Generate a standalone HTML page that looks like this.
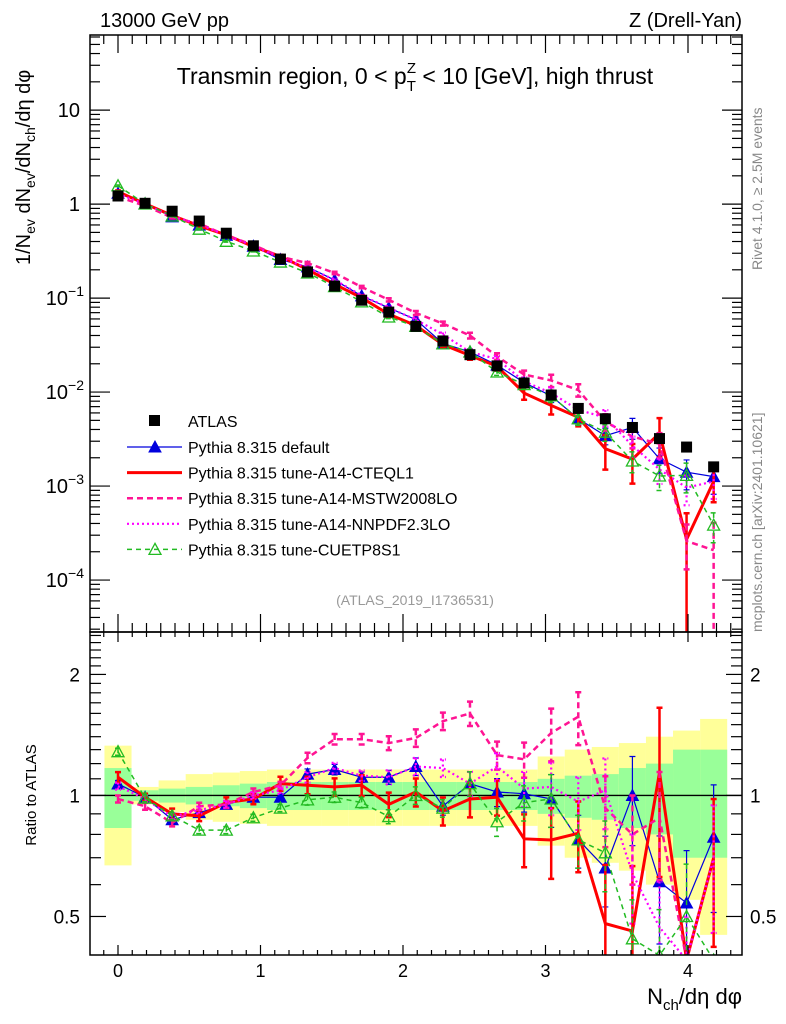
<!DOCTYPE html>
<html><head><meta charset="utf-8"><style>
html,body{margin:0;padding:0;background:#fff;overflow:hidden;width:786px;height:1024px;}
svg{display:block;font-family:"Liberation Sans",sans-serif;}
</style></head><body>
<svg id="chart" width="786" height="1024" viewBox="0 0 786 1024" xmlns="http://www.w3.org/2000/svg">
<rect width="786" height="1024" fill="#fff"/>
<g id="ratioBands"></g>
<g id="marks"></g>
<g id="axes"></g>
<text x="100" y="27" font-size="20">13000 GeV pp</text>
<text x="742" y="27" font-size="20" text-anchor="end">Z (Drell-Yan)</text>
<text x="415" y="84" font-size="23" text-anchor="middle">Transmin region, 0 &lt; p<tspan font-size="15" dy="7">T</tspan><tspan font-size="15" dx="-9" dy="-18">Z</tspan><tspan dy="11"> &lt; 10 [GeV], high thrust</tspan></text>
<text x="415" y="605" font-size="14" fill="#999" text-anchor="middle">(ATLAS_2019_I1736531)</text>
<text transform="translate(30,265) rotate(-90)" font-size="20">1/N<tspan font-size="14" dy="5">ev</tspan><tspan dy="-5"> dN</tspan><tspan font-size="14" dy="5">ev</tspan><tspan dy="-5">/dN</tspan><tspan font-size="14" dy="5">ch</tspan><tspan dy="-5">/dη dφ</tspan></text>
<text transform="translate(36,795) rotate(-90)" font-size="15" text-anchor="middle">Ratio to ATLAS</text>
<text x="742" y="1004" font-size="22" text-anchor="end">N<tspan font-size="15" dy="6">ch</tspan><tspan dy="-6">/dη dφ</tspan></text>
<text transform="translate(762,632) rotate(-90)" font-size="14" fill="#888">mcplots.cern.ch [arXiv:2401.10621]</text>
<text transform="translate(762,270) rotate(-90)" font-size="14" fill="#888">Rivet 4.1.0, ≥ 2.5M events</text>
<g id="legend"></g>
</svg>
<script>
const xVals = [0,0.19,0.38,0.57,0.76,0.95,1.14,1.33,1.52,1.71,1.90,2.09,2.28,2.47,2.66,2.85,3.04,3.23,3.42,3.61,3.80,3.99,4.18];
const atlas = [1.22,1.02,0.84,0.66,0.49,0.36,0.26,0.19,0.134,0.095,0.071,0.050,0.035,0.025,0.019,0.0125,0.0093,0.0067,0.0052,0.0042,0.0032,0.0026,0.0016];
const bandInner = [0.17,0.03,0.04,0.05,0.06,0.07,0.08,0.08,0.08,0.08,0.08,0.08,0.08,0.08,0.08,0.08,0.10,0.12,0.13,0.17,0.2,0.3,0.3];
const bandOuter = [0.33,0.05,0.09,0.13,0.14,0.15,0.16,0.16,0.16,0.16,0.16,0.16,0.16,0.16,0.16,0.16,0.25,0.3,0.32,0.35,0.4,0.45,0.55];
const ratioDefault = [1.068,0.99,0.87,0.906,0.95,0.99,0.99,1.13,1.16,1.11,1.11,1.18,0.94,1.07,1.02,1.01,0.98,0.776,0.66,1.0,0.61,0.54,0.787];
const ratioCTEQ = [1.11,0.99,0.90,0.89,0.96,0.98,1.07,1.06,1.05,1.06,0.95,1.02,0.915,0.98,0.99,0.78,0.775,0.805,0.48,0.46,1.14,0.104,0.70];
const ratioMSTW = [0.98,0.94,0.855,0.94,0.95,1.02,1.06,1.24,1.38,1.38,1.35,1.39,1.53,1.60,1.26,1.23,1.43,1.57,0.93,0.80,0.88,0.1,0.13];
const ratioNNPDF = [1.055,0.98,0.886,0.92,0.95,1.0,1.03,1.11,1.17,1.12,1.11,1.18,1.17,1.07,1.18,1.04,1.05,0.965,1.03,0.64,0.47,0.37,0.70];
const ratioCUETP = [1.285,0.985,0.89,0.82,0.82,0.88,0.93,0.975,0.99,0.96,0.886,1.0,0.93,1.07,0.86,0.96,0.98,0.776,0.72,0.44,0.40,0.50,0.24];
const mcErr = [0.02,0.02,0.02,0.02,0.02,0.02,0.02,0.03,0.03,0.03,0.04,0.05,0.05,0.07,0.08,0.1,0.15,0.15,0.2,0.25,0.3,0.35,0.35];
const mstwErr = [0.02,0.02,0.02,0.02,0.02,0.02,0.02,0.03,0.03,0.03,0.04,0.05,0.05,0.07,0.08,0.1,0.15,0.15,0.2,0.25,0.3,0.5,0.95];
const redErr = [0.03,0.02,0.03,0.03,0.03,0.03,0.04,0.05,0.05,0.06,0.07,0.08,0.08,0.1,0.1,0.15,0.2,0.2,0.4,0.45,0.45,0.9,0.4];
const mainYTicks = [10,1,0.1,0.01,0.001,0.0001];
const mainYLabels = ["10","1","10^-1","10^-2","10^-3","10^-4"];
const ratioTicks = [2,1,0.5];
const ratioLabels = ["2","1","0.5"];
const xTicks = [0,1,2,3,4];

const NS = "http://www.w3.org/2000/svg";
const L = 90, R = 742, T1 = 35, B1 = 632, T2 = 632, B2 = 955;
const X0 = -0.1965, X1 = 4.379;
const sx = v => L + (v - X0) / (X1 - X0) * (R - L);
const yLo = Math.log10(2.8e-5), yHi = Math.log10(63);
const clamp = (y, a, b) => Math.max(a, Math.min(b, y));
const sy = v => clamp(B1 - (Math.log10(v) - yLo) / (yHi - yLo) * (B1 - T1), T1 - 5, B1 + 5);
const rLo = Math.log2(0.401), rHi = Math.log2(2.55);
const sr = v => clamp(B2 - (Math.log2(v) - rLo) / (rHi - rLo) * (B2 - T2), T2 - 5, B2 + 5);
function el(tag, attrs, parent) {
  const e = document.createElementNS(NS, tag);
  for (const k in attrs) e.setAttribute(k, attrs[k]);
  parent.appendChild(e); return e;
}
const marks = document.getElementById('marks');
const axes = document.getElementById('axes');
const bands = document.getElementById('ratioBands');
const clipDefs = el('defs', {}, marks);
const c1 = el('clipPath', {id: 'cp1'}, clipDefs); el('rect', {x: L, y: T1, width: R - L, height: B1 - T1}, c1);
const c2 = el('clipPath', {id: 'cp2'}, clipDefs); el('rect', {x: L, y: T2, width: R - L, height: B2 - T2}, c2);
const g1 = el('g', {'clip-path': 'url(#cp1)'}, marks);


const g2 = el('g', {'clip-path': 'url(#cp2)'}, marks);



const bw = 0.19;
xVals.forEach((x, i) => {
  const xa = sx(x - bw / 2), xb = sx(x + bw / 2);
  const yb = el('rect', {x: xa, y: sr(1 + bandOuter[i]), width: xb - xa, height: sr(Math.max(1 - bandOuter[i], 0.3)) - sr(1 + bandOuter[i]), fill: '#ffff99'}, bands);
  
  
  const gb = el('rect', {x: xa, y: sr(1 + bandInner[i]), width: xb - xa, height: sr(1 - bandInner[i]) - sr(1 + bandInner[i]), fill: '#99ff99'}, bands);
  
  
});
bands.setAttribute('clip-path', 'url(#cp2)');
const one = el('line', {x1: L, x2: R, y1: sr(1), y2: sr(1), stroke: '#000', 'stroke-width': 1.3}, g2);



const series = [
  {name: 'default', r: ratioDefault, err: mcErr, color: '#0000dd', w: 1.2, dash: '', marker: 'fill', label: 'Pythia 8.315 default'},
  {name: 'cteql1', r: ratioCTEQ, err: redErr, color: '#ff0000', w: 3, dash: '', marker: '', label: 'Pythia 8.315 tune-A14-CTEQL1'},
  {name: 'mstw', r: ratioMSTW, err: mstwErr, color: '#ff1493', w: 2.5, dash: '6,4', marker: '', label: 'Pythia 8.315 tune-A14-MSTW2008LO'},
  {name: 'nnpdf', r: ratioNNPDF, err: mcErr, color: '#ff00ff', w: 2.2, dash: '2,3', marker: '', label: 'Pythia 8.315 tune-A14-NNPDF2.3LO'},
  {name: 'cuetp8s1', r: ratioCUETP, err: mcErr, color: '#22bb22', w: 1.5, dash: '5,4', marker: 'open', label: 'Pythia 8.315 tune-CUETP8S1'}
];
function tri(g, x, y, s, open) {
  const p = el('polygon', {points: `${x},${y - 6} ${x - 6},${y + 5} ${x + 6},${y + 5}`, fill: open ? 'none' : s.color, stroke: s.color, 'stroke-width': open ? 1.3 : 1}, g);
  
  
}
series.forEach(s => {
  [[g1, i => s.r[i] * atlas[i], sy], [g2, i => s.r[i], sr]].forEach(([g, val, fy], pi) => {
    const grp = el('g', {}, g);
    
    
    const pts = xVals.map((x, i) => `${sx(x)},${fy(val(i))}`).join(' ');
    const ln = el('polyline', {points: pts, fill: 'none', stroke: s.color, 'stroke-width': s.w, 'stroke-dasharray': s.dash}, grp);
    
    
    xVals.forEach((x, i) => {
      const v = val(i), e = s.err[i];
      const yt = fy(v * (1 + e)), yb = fy(Math.max(v * (1 - e), 1e-9));
      const eb = el('path', {d: `M${sx(x)},${yt}V${yb}M${sx(x) - 3},${yt}h6M${sx(x) - 3},${yb}h6`, stroke: s.color, 'stroke-width': Math.min(s.w, 2.5), fill: 'none', 'stroke-dasharray': s.dash}, grp);
      
      
      if (s.marker) tri(grp, sx(x), fy(v), s, s.marker === 'open');
    });
  });
});
const ag = el('g', {}, g1);


xVals.forEach((x, i) => {
  const q = el('rect', {x: sx(x) - 5.5, y: sy(atlas[i]) - 5.5, width: 11, height: 11, fill: '#000'}, ag);
  
  
});

[[T1, B1], [T2, B2]].forEach(([t, b], k) => {
  const f = el('rect', {x: L, y: t, width: R - L, height: b - t, fill: 'none', stroke: '#000', 'stroke-width': 1.5}, axes);
  
  
});
function tick(x1, y1, x2, y2, w) {
  const t = el('line', {x1, y1, x2, y2, stroke: '#000', 'stroke-width': w || 1.2}, axes);
  
  
}
for (let k = -1; k <= 43; k++) {
  const v = k / 10; if (v < X0 || v > X1) continue;
  const x = sx(v), major = k % 10 === 0;
  const len = major ? 18 : 9, len2 = major ? 10 : 5;
  tick(x, B1, x, B1 - len); tick(x, T1, x, T1 + len);
  tick(x, B2, x, B2 - len2); tick(x, T2, x, T2 + len2);
}
xTicks.forEach(v => {
  const t = el('text', {x: sx(v), y: 977, 'font-size': 18, 'text-anchor': 'middle'}, axes);
  t.textContent = v;
  
  
});
for (let d = -5; d <= 1; d++) {
  for (let m = 1; m <= 9; m++) {
    const v = m * Math.pow(10, d);
    const yr = B1 - (Math.log10(v) - yLo) / (yHi - yLo) * (B1 - T1);
    if (yr < T1 || yr > B1) continue;
    const len = m === 1 ? 20 : 10;
    tick(L, yr, L + len, yr); tick(R, yr, R - len, yr);
  }
}
mainYTicks.forEach((v, i) => {
  const y = sy(v) + 7;
  const lab = mainYLabels[i];
  const t = el('text', {x: 80, y, 'font-size': 20, 'text-anchor': 'end'}, axes);
  if (lab.includes('^')) {
    const [b, e] = lab.split('^');
    t.setAttribute('x', 84);
    t.innerHTML = b + '<tspan font-size="14" dy="-9">' + e.replace('-', '−') + '</tspan>';
  } else t.textContent = lab;
  
  
});
for (let k = 4; k <= 25; k++) {
  const v = k / 10;
  const yr = B2 - (Math.log2(v) - rLo) / (rHi - rLo) * (B2 - T2);
  if (yr < T2 || yr > B2) continue;
  const major = (k === 5 || k === 10 || k === 20);
  const len = major ? 16 : 11;
  tick(L, yr, L + len, yr); tick(R, yr, R - len, yr);
}
ratioTicks.forEach((v, i) => {
  [[80, 'end'], [750, 'start']].forEach(([x, a]) => {
    const t = el('text', {x, y: sr(v) + 7, 'font-size': 19, 'text-anchor': a}, axes);
    t.textContent = ratioLabels[i];
    
    
  });
});
const lg = document.getElementById('legend');
const e0 = el('rect', {x: 149, y: 415, width: 11, height: 11, fill: '#000'}, lg);


const t0 = el('text', {x: 188, y: 427, 'font-size': 16}, lg);
t0.textContent = 'ATLAS';


series.forEach((s, i) => {
  const y = 447 + i * 25.6;
  const l = el('line', {x1: 127, x2: 182, y1: y, y2: y, stroke: s.color, 'stroke-width': s.w, 'stroke-dasharray': s.dash}, lg);
  
  
  if (s.marker) tri(lg, 155, y, s, s.marker === 'open');
  const t = el('text', {x: 188, y: y + 6, 'font-size': 16}, lg);
  t.textContent = s.label;
  
  
});
</script>
</body></html>
